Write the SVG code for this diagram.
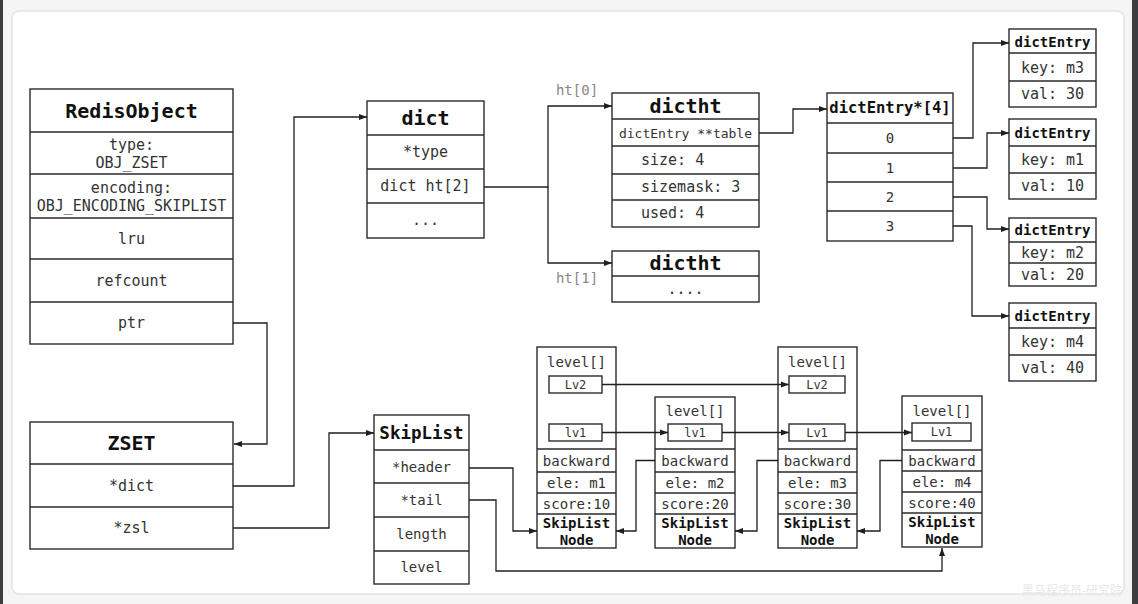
<svg xmlns="http://www.w3.org/2000/svg" width="1138" height="604" viewBox="0 0 1138 604">
<style>
.box{fill:#fff;stroke:#2b2b2b;stroke-width:1.4}
.ln{fill:none;stroke:#2b2b2b;stroke-width:1.4}
.c{stroke:#1f1f1f;stroke-width:1.3;fill:none}
text{font-family:"DejaVu Sans Mono","Liberation Mono",monospace;fill:#333;dominant-baseline:central;text-anchor:middle}
.b{font-weight:bold;fill:#111}
.h20{font-size:20px}
.t15{font-size:15px}
.t14{font-size:14px}
.t13{font-size:13px}
.t12{font-size:12px}
.lab{font-size:14px;fill:#888}
.wm{font-family:"Noto Sans CJK SC",sans-serif;font-size:12px;fill:#e8e8e8}
</style>
<defs>
<marker id="arr" markerUnits="userSpaceOnUse" markerWidth="8" markerHeight="7" refX="8" refY="3.5" orient="auto">
<path d="M0,0.5 L8,3.5 L0,6.5 z" fill="#1f1f1f"/>
</marker>
</defs>
<rect x="0" y="0" width="1138" height="604" fill="#f5f5f5"/>
<rect x="0" y="0" width="3" height="604" fill="#3a3e42"/>
<rect x="1132" y="0" width="6" height="604" fill="#3a3e42"/>
<rect x="12" y="11" width="1112" height="583" rx="7" fill="#fff" stroke="#e4e4e4" stroke-width="1.5"/>

<g id="redisobject">
<rect class="box" x="30" y="89" width="203" height="255"/>
<path class="ln" d="M30,132H233M30,174H233M30,218H233M30,259H233M30,302H233"/>
<text class="b h20" x="131.5" y="111">RedisObject</text>
<text class="t15" x="131.5" y="145">type:</text>
<text class="t15" x="131.5" y="163">OBJ_ZSET</text>
<text class="t15" x="131.5" y="188">encoding:</text>
<text class="t15" x="131.5" y="206">OBJ_ENCODING_SKIPLIST</text>
<text class="t15" x="131.5" y="239">lru</text>
<text class="t15" x="131.5" y="281">refcount</text>
<text class="t15" x="131.5" y="323">ptr</text>
</g>

<g id="zset">
<rect class="box" x="30" y="422" width="203" height="127"/>
<path class="ln" d="M30,464H233M30,507H233"/>
<text class="b h20" x="131.5" y="443">ZSET</text>
<text class="t15" x="131.5" y="486">*dict</text>
<text class="t15" x="131.5" y="528">*zsl</text>
</g>

<g id="dict">
<rect class="box" x="367" y="101" width="117" height="137"/>
<path class="ln" d="M367,135H484M367,169H484M367,203H484"/>
<text class="b h20" x="425.5" y="118">dict</text>
<text class="t15" x="425.5" y="152">*type</text>
<text class="t15" x="425.5" y="186">dict ht[2]</text>
<text class="t15" x="425.5" y="220">...</text>
</g>

<g id="dictht0">
<rect class="box" x="612" y="93" width="147" height="134"/>
<path class="ln" d="M612,119H759M612,146H759M612,174H759M612,200H759"/>
<text class="b h20" x="685.5" y="106">dictht</text>
<text class="t13" x="685.5" y="133">dictEntry **table</text>
<text class="t15" x="641" y="160" style="text-anchor:start">size: 4</text>
<text class="t15" x="641" y="187" style="text-anchor:start">sizemask: 3</text>
<text class="t15" x="641" y="213" style="text-anchor:start">used: 4</text>
</g>

<g id="dictht1">
<rect class="box" x="612" y="251" width="147" height="51"/>
<path class="ln" d="M612,276H759"/>
<text class="b h20" x="685.5" y="263">dictht</text>
<text class="t15" x="685.5" y="289">....</text>
</g>

<g id="table">
<rect class="box" x="827" y="93" width="126" height="148"/>
<path class="ln" d="M827,123H953M827,153H953M827,182H953M827,211H953"/>
<text class="b" style="font-size:15.5px" x="890" y="108">dictEntry*[4]</text>
<text class="t14" x="890" y="138">0</text>
<text class="t14" x="890" y="168">1</text>
<text class="t14" x="890" y="197">2</text>
<text class="t14" x="890" y="226">3</text>
</g>

<g id="entry-m3">
<rect class="box" x="1009" y="29" width="87" height="78"/>
<path class="ln" d="M1009,53H1096M1009,81H1096"/>
<text class="b t14" x="1052.5" y="42">dictEntry</text>
<text class="t15" x="1052.5" y="68">key: m3</text>
<text class="t15" x="1052.5" y="94">val: 30</text>
</g>
<g id="entry-m1">
<rect class="box" x="1009" y="119" width="87" height="80"/>
<path class="ln" d="M1009,146H1096M1009,173H1096"/>
<text class="b t14" x="1052.5" y="133">dictEntry</text>
<text class="t15" x="1052.5" y="160">key: m1</text>
<text class="t15" x="1052.5" y="186">val: 10</text>
</g>
<g id="entry-m2">
<rect class="box" x="1009" y="218" width="87" height="68"/>
<path class="ln" d="M1009,242H1096M1009,263H1096"/>
<text class="b t14" x="1052.5" y="230">dictEntry</text>
<text class="t15" x="1052.5" y="253">key: m2</text>
<text class="t15" x="1052.5" y="275">val: 20</text>
</g>
<g id="entry-m4">
<rect class="box" x="1009" y="303" width="87" height="78"/>
<path class="ln" d="M1009,328H1096M1009,355H1096"/>
<text class="b t14" x="1052.5" y="316">dictEntry</text>
<text class="t15" x="1052.5" y="342">key: m4</text>
<text class="t15" x="1052.5" y="368">val: 40</text>
</g>

<g id="skiplist">
<rect class="box" x="374" y="415" width="95" height="169"/>
<path class="ln" d="M374,450H469M374,483H469M374,517H469M374,551H469"/>
<text class="b" style="font-size:17.5px" x="421.5" y="433">SkipList</text>
<text class="t14" x="421.5" y="467">*header</text>
<text class="t14" x="421.5" y="500">*tail</text>
<text class="t14" x="421.5" y="534">length</text>
<text class="t14" x="421.5" y="567">level</text>
</g>

<g id="node1">
<rect class="box" x="537" y="347" width="79" height="201"/>
<path class="ln" d="M537,449H616M537,472H616M537,493H616M537,514H616"/>
<text class="t14" x="576.5" y="362">level[]</text>
<rect class="box" x="549" y="376" width="53" height="17"/>
<text class="t12" x="575.5" y="384.5">Lv2</text>
<rect class="box" x="549" y="424" width="53" height="17"/>
<text class="t12" x="575.5" y="432.5">lv1</text>
<text class="t14" x="576.5" y="461">backward</text>
<text class="t14" x="576.5" y="482.5">ele: m1</text>
<text class="t14" x="576.5" y="503.5">score:10</text>
<text class="b t14" x="576.5" y="523">SkipList</text>
<text class="b t14" x="576.5" y="540">Node</text>
</g>

<g id="node2">
<rect class="box" x="655" y="397" width="80" height="151"/>
<path class="ln" d="M655,449H735M655,472H735M655,493H735M655,514H735"/>
<text class="t14" x="695" y="411">level[]</text>
<rect class="box" x="668" y="424" width="54" height="17"/>
<text class="t12" x="695" y="432.5">lv1</text>
<text class="t14" x="695" y="461">backward</text>
<text class="t14" x="695" y="482.5">ele: m2</text>
<text class="t14" x="695" y="503.5">score:20</text>
<text class="b t14" x="695" y="523">SkipList</text>
<text class="b t14" x="695" y="540">Node</text>
</g>

<g id="node3">
<rect class="box" x="778" y="347" width="79" height="201"/>
<path class="ln" d="M778,449H857M778,472H857M778,493H857M778,514H857"/>
<text class="t14" x="817.5" y="362">level[]</text>
<rect class="box" x="789" y="376" width="56" height="17"/>
<text class="t12" x="817" y="384.5">Lv2</text>
<rect class="box" x="789" y="424" width="56" height="17"/>
<text class="t12" x="817" y="432.5">Lv1</text>
<text class="t14" x="817.5" y="461">backward</text>
<text class="t14" x="817.5" y="482.5">ele: m3</text>
<text class="t14" x="817.5" y="503.5">score:30</text>
<text class="b t14" x="817.5" y="523">SkipList</text>
<text class="b t14" x="817.5" y="540">Node</text>
</g>

<g id="node4">
<rect class="box" x="902" y="396" width="80" height="151"/>
<path class="ln" d="M902,450H982M902,471H982M902,492H982M902,513H982"/>
<text class="t14" x="942" y="411">level[]</text>
<rect class="box" x="912" y="423" width="59" height="18"/>
<text class="t12" x="941.5" y="432">Lv1</text>
<text class="t14" x="942" y="460.5">backward</text>
<text class="t14" x="942" y="481.5">ele: m4</text>
<text class="t14" x="942" y="502.5">score:40</text>
<text class="b t14" x="942" y="522">SkipList</text>
<text class="b t14" x="942" y="539">Node</text>
</g>

<g id="labels">
<text class="lab" x="577" y="90">ht[0]</text>
<text class="lab" x="577" y="278">ht[1]</text>
<text class="wm" x="1072" y="589">黑马程序员-研究院</text>
</g>

<g id="connectors">
<path class="c" d="M233,323H267V444H234" marker-end="url(#arr)"/>
<path class="c" d="M233,486H294V117H367" marker-end="url(#arr)"/>
<path class="c" d="M233,528H329V433H374" marker-end="url(#arr)"/>
<path class="c" d="M484,187H548V106H612" marker-end="url(#arr)"/>
<path class="c" d="M548,187V263H612" marker-end="url(#arr)"/>
<path class="c" d="M759,133H793V109H827" marker-end="url(#arr)"/>
<path class="c" d="M953,138H973V43H1009" marker-end="url(#arr)"/>
<path class="c" d="M953,168H987V133H1009" marker-end="url(#arr)"/>
<path class="c" d="M953,197H987V229H1009" marker-end="url(#arr)"/>
<path class="c" d="M953,226H972V316H1009" marker-end="url(#arr)"/>
<path class="c" d="M469,468H513V531H537" marker-end="url(#arr)"/>
<path class="c" d="M469,500H496V571H942V548" marker-end="url(#arr)"/>
<path class="c" d="M602,384.5H789" marker-end="url(#arr)"/>
<path class="c" d="M602,432.5H668" marker-end="url(#arr)"/>
<path class="c" d="M722,432.5H789" marker-end="url(#arr)"/>
<path class="c" d="M845,432.5H912" marker-end="url(#arr)"/>
<path class="c" d="M655,460.5H636V531H616" marker-end="url(#arr)"/>
<path class="c" d="M778,460.5H757V531H735" marker-end="url(#arr)"/>
<path class="c" d="M902,460.5H880V531H857" marker-end="url(#arr)"/>
</g>
</svg>
